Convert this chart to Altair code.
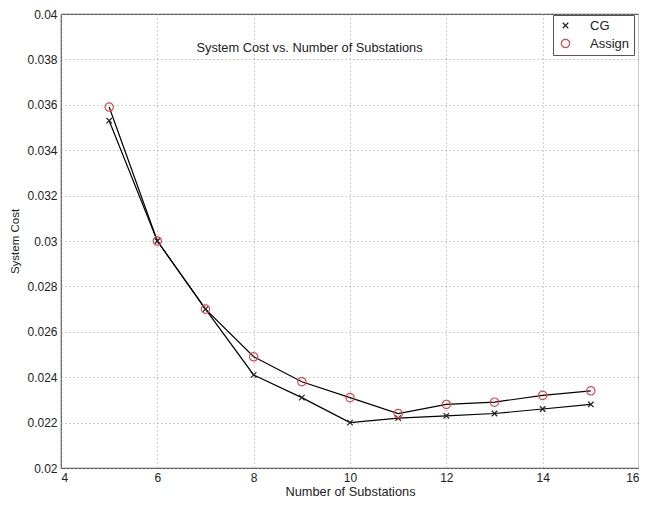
import altair as alt
import pandas as pd

substations = [5, 6, 7, 8, 9, 10, 11, 12, 13, 14, 15]
cg_cost = [0.0353, 0.0300, 0.0270, 0.0241, 0.0231, 0.0220, 0.0222, 0.0223, 0.0224, 0.0226, 0.0228]
assign_cost = [0.0359, 0.0300, 0.0270, 0.0249, 0.0238, 0.0231, 0.0224, 0.0228, 0.0229, 0.0232, 0.0234]
series_names = ["CG", "Assign"]
x_ticks = [4, 6, 8, 10, 12, 14, 16]
y_ticks = [0.02, 0.022, 0.024, 0.026, 0.028, 0.03, 0.032, 0.034, 0.036, 0.038, 0.04]
title_text = "System Cost vs. Number of Substations"

rows = []
for n, c in zip(substations, cg_cost):
    rows.append({"n": n, "cost": c, "series": "CG"})
for n, c in zip(substations, assign_cost):
    rows.append({"n": n, "cost": c, "series": "Assign"})
df = pd.DataFrame(rows)

FONT = "Liberation Sans"

x_enc = alt.X("n:Q", title="Number of Substations",
              scale=alt.Scale(domain=[4, 16], nice=False, zero=False),
              axis=alt.Axis(values=x_ticks, format="d", grid=True, gridDash=[1, 3],
                            gridColor="#a0a0a0", tickSize=0, labelPadding=4,
                            titlePadding=2, domain=False, labelFontSize=12,
                            titleFontSize=12.8))
y_enc = alt.Y("cost:Q", title="System Cost",
              scale=alt.Scale(domain=[0.02, 0.04], nice=False, zero=False),
              axis=alt.Axis(values=y_ticks, format=".3~f", grid=True, gridDash=[1, 3],
                            gridColor="#a0a0a0", tickSize=0, labelPadding=4,
                            titlePadding=6, domain=False, labelFontSize=12,
                            titleFontSize=11.5))

lines = alt.Chart(df).mark_line(color="black", strokeWidth=1.2).encode(
    x=x_enc, y=y_enc, detail="series:N"
)

points = alt.Chart(df).mark_point(filled=False, strokeWidth=1.2, opacity=1).encode(
    x="n:Q", y="cost:Q",
    color=alt.Color("series:N",
                    scale=alt.Scale(domain=series_names, range=["#222222", "#e0454f"]),
                    legend=alt.Legend(title=None, orient="none", legendX=492, legendY=1,
                                      strokeColor="#555555", fillColor="white",
                                      padding=4, labelFontSize=13, labelFont=FONT,
                                      labelColor="#222222",
                                      symbolSize=50, rowPadding=3, labelOffset=18,
                                      symbolOffset=2, symbolStrokeWidth=1.2)),
    shape=alt.Shape("series:N",
                    scale=alt.Scale(domain=series_names,
                                    range=["M-1,-1L1,1M-1,1L1,-1", "circle"]),
                    legend=None),
    size=alt.Size("series:N", scale=alt.Scale(domain=series_names, range=[30, 70]),
                  legend=None),
)

title_df = pd.DataFrame({"n": [9.16], "cost": [0.03851], "t": [title_text]})
title_mark = alt.Chart(title_df).mark_text(font=FONT, fontSize=12.8, color="#222222").encode(
    x="n:Q", y="cost:Q", text="t:N"
)

chart = alt.layer(lines, points, title_mark).properties(
    width=578, height=454,
    autosize=alt.AutoSizeParams(type="none"),
    padding={"left": 53, "top": 6, "right": 0, "bottom": 32},
).configure_view(stroke="#555555", strokeWidth=1.2).configure_axis(
    labelFont=FONT, titleFont=FONT,
    labelColor="#222222", titleColor="#222222", titleFontWeight="normal"
)

chart.save("out.html", embed_options={"renderer": "svg", "actions": False})
